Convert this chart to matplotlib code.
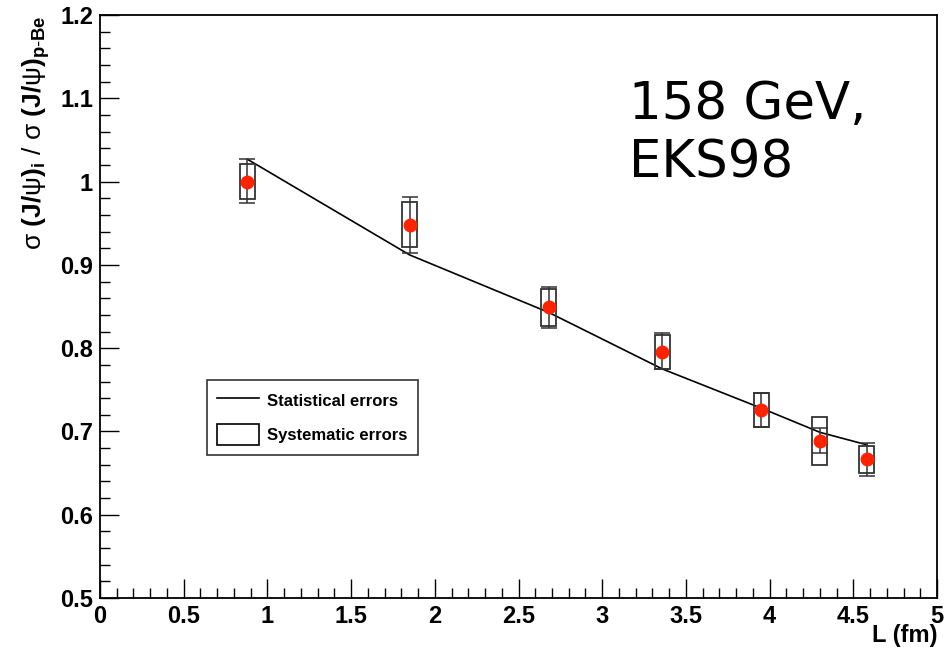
import matplotlib
matplotlib.use("Agg")
import matplotlib.pyplot as plt
from matplotlib.patches import Rectangle, Patch
from matplotlib.lines import Line2D
from matplotlib.ticker import MultipleLocator

# Path length L (fm) and J/psi cross-section ratios
L_fm = [0.88, 1.85, 2.68, 3.36, 3.95, 4.30, 4.58]
ratio = [1.000, 0.948, 0.849, 0.795, 0.726, 0.688, 0.667]
stat_lo = [0.026, 0.034, 0.025, 0.020, 0.021, 0.014, 0.021]
stat_hi = [0.027, 0.033, 0.024, 0.023, 0.020, 0.016, 0.019]
sys_lo = [0.021, 0.027, 0.022, 0.020, 0.021, 0.028, 0.017]
sys_hi = [0.021, 0.027, 0.022, 0.021, 0.020, 0.029, 0.015]

# EKS98 calculation at 158 GeV
model_L = [0.88, 1.85, 2.68, 3.36, 3.95, 4.30, 4.58]
model_ratio = [1.027, 0.912, 0.843, 0.775, 0.728, 0.699, 0.684]

box_halfwidth = 0.045

plt.rcParams["font.family"] = ["Liberation Sans", "DejaVu Sans"]
plt.rcParams["mathtext.fontset"] = "custom"
plt.rcParams["mathtext.rm"] = "Liberation Sans"
plt.rcParams["mathtext.bf"] = "Liberation Sans:bold"
plt.rcParams["mathtext.it"] = "Liberation Sans:italic"

fig = plt.figure(figsize=(9.46, 6.59), dpi=100)
ax = fig.add_axes([0.1057, 0.0926, 0.8848, 0.8844])

ax.plot(model_L, model_ratio, color="black", lw=1.2, zorder=2)

for x, y, sl, sh in zip(L_fm, ratio, sys_lo, sys_hi):
    ax.add_patch(Rectangle((x - box_halfwidth, y - sl), 2 * box_halfwidth, sl + sh,
                           fill=False, edgecolor="#333333", lw=1.3, zorder=3))

ax.errorbar(L_fm, ratio, yerr=[stat_lo, stat_hi], fmt="o", color="#ff2200",
            ecolor="#333333", elinewidth=1.1, capsize=6, capthick=1.1,
            markersize=9, zorder=4)

ax.set_xlim(0, 5)
ax.set_ylim(0.5, 1.2)
ax.xaxis.set_minor_locator(MultipleLocator(0.1))
ax.yaxis.set_minor_locator(MultipleLocator(0.02))
ax.tick_params(which="both", direction="in", top=False, right=False)
ax.tick_params(which="major", length=14, width=1, pad=5)
ax.tick_params(which="minor", length=7, width=1)
ax.set_xticks([0, 0.5, 1, 1.5, 2, 2.5, 3, 3.5, 4, 4.5, 5])
ax.set_xticklabels(["0", "0.5", "1", "1.5", "2", "2.5", "3", "3.5", "4", "4.5", "5"],
                   fontweight="bold", fontsize=17)
ax.set_yticks([0.5, 0.6, 0.7, 0.8, 0.9, 1.0, 1.1, 1.2])
ax.set_yticklabels(["0.5", "0.6", "0.7", "0.8", "0.9", "1", "1.1", "1.2"],
                   fontweight="bold", fontsize=17)
for sp in ax.spines.values():
    sp.set_linewidth(1.3)

ax.set_xlabel("L (fm)", fontsize=17, fontweight="bold", loc="right", labelpad=-3)
ax.set_ylabel(r"$\mathrm{σ}\ \mathbf{(J/}\mathrm{ψ}\mathbf{)_{i}}\ \mathrm{/}\ "
              r"\mathrm{σ}\ \mathbf{(J/}\mathrm{ψ}\mathbf{)_{p\text{-}Be}}$",
              fontsize=19, loc="top", labelpad=6)

ax.text(0.632, 0.888, "158 GeV,\nEKS98", transform=ax.transAxes,
        fontsize=37, family="DejaVu Sans", va="top", ha="left", linespacing=1.2)

handles = [Line2D([], [], color="black", lw=1.2),
           Patch(facecolor="none", edgecolor="black", lw=1.2)]
leg = ax.legend(handles, ["Statistical errors", "Systematic errors"],
                loc="upper left", bbox_to_anchor=(0.128, 0.374),
                prop={"weight": "bold", "size": 12}, frameon=True, fancybox=False,
                edgecolor="black", borderpad=0.6, labelspacing=0.75, handlelength=2.5,
                handleheight=1.6, handletextpad=0.5, borderaxespad=0)
leg.get_frame().set_linewidth(1.2)

fig.savefig("out.png", dpi=100)
